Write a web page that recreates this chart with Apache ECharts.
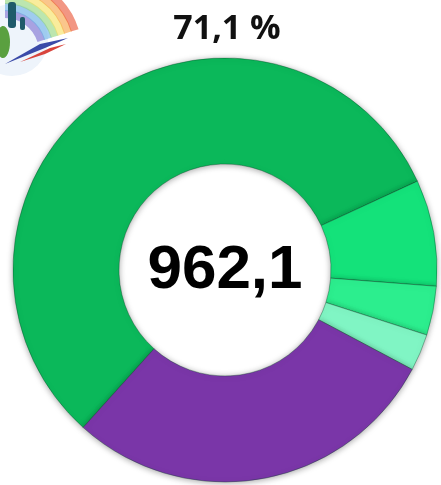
<!DOCTYPE html>
<html><head><meta charset="utf-8">
<script src="https://cdn.jsdelivr.net/npm/echarts@6/dist/echarts.min.js"></script>
<style>html,body{margin:0;padding:0;background:#fff}#c{width:441px;height:485px}</style>
</head><body><div id="c"></div>
<script>
var categories = ['Зелёный 1', 'Зелёный 2', 'Зелёный 3', 'Зелёный 4', 'Фиолетовый'];
var values = [543.1, 78.0, 36.0, 27.0, 278.0];
var colors = ['#0bb85a', '#14e27a', '#2cee8e', '#80f5c4', '#7a36a8'];
var centerLabel = '962,1';
var topLabel = '71,1 %';

var chart = echarts.init(document.getElementById('c'), null, {renderer: 'canvas'});
var data = categories.map(function (n, i) {
  return {name: n, value: values[i], itemStyle: {color: colors[i]}};
});
var rainbow = ['#7a6ad0', '#6ab0e8', '#8fd67a', '#f5e05a', '#f7a040', '#ea5030'];
var graphics = [];
graphics.push({type: 'circle', shape: {cx: 12, cy: 40, r: 36}, style: {fill: '#eef4fb'}, z: 0});
rainbow.forEach(function (c, i) {
  graphics.push({type: 'arc', shape: {cx: 5, cy: 52, r: 38 + i * 7, startAngle: -Math.PI / 2, endAngle: -0.3},
    style: {stroke: c, lineWidth: 8, fill: null, opacity: 0.6}, z: 1});
});
graphics.push({type: 'polygon', shape: {points: [[5, 64], [40, 44], [68, 38], [45, 48]]}, style: {fill: '#3a4aa8'}, z: 2});
graphics.push({type: 'polygon', shape: {points: [[20, 62], [50, 48], [66, 44], [45, 54]]}, style: {fill: '#d8443c'}, z: 2});
graphics.push({type: 'ellipse', shape: {cx: 3, cy: 42, rx: 7, ry: 16}, style: {fill: '#5aa040'}, z: 2});
graphics.push({type: 'rect', shape: {x: 8, y: 2, width: 8, height: 26, r: 3}, style: {fill: '#1f5a6a'}, z: 3});
graphics.push({type: 'rect', shape: {x: 20, y: 17, width: 5, height: 13, r: 2}, style: {fill: '#1f5a6a'}, z: 3});
graphics.push({type: 'text', x: 227, y: 29, style: {text: topLabel, fontWeight: 700, fontSize: 34, fontFamily: '"Open Sans", "Noto Sans", sans-serif', fill: '#111', align: 'center', verticalAlign: 'middle'}, z: 5});
graphics.push({type: 'text', x: 225, y: 271, style: {text: centerLabel, fontWeight: 'bold', fontSize: 62, fontFamily: 'Liberation Sans', fill: '#000', align: 'center', verticalAlign: 'middle'}, z: 5});

chart.setOption({
  animation: false,
  backgroundColor: '#fff',
  graphic: graphics,
  series: [{
    type: 'pie',
    center: [225, 270],
    radius: [106, 212],
    startAngle: 228,
    clockwise: true,
    label: {show: false},
    labelLine: {show: false},
    emphasis: {disabled: true},
    itemStyle: {borderColor: 'rgba(0,60,30,0.35)', borderWidth: 1, shadowBlur: 6, shadowColor: 'rgba(0,0,0,0.35)', shadowOffsetY: 1},
    data: data
  }]
});
</script></body></html>
